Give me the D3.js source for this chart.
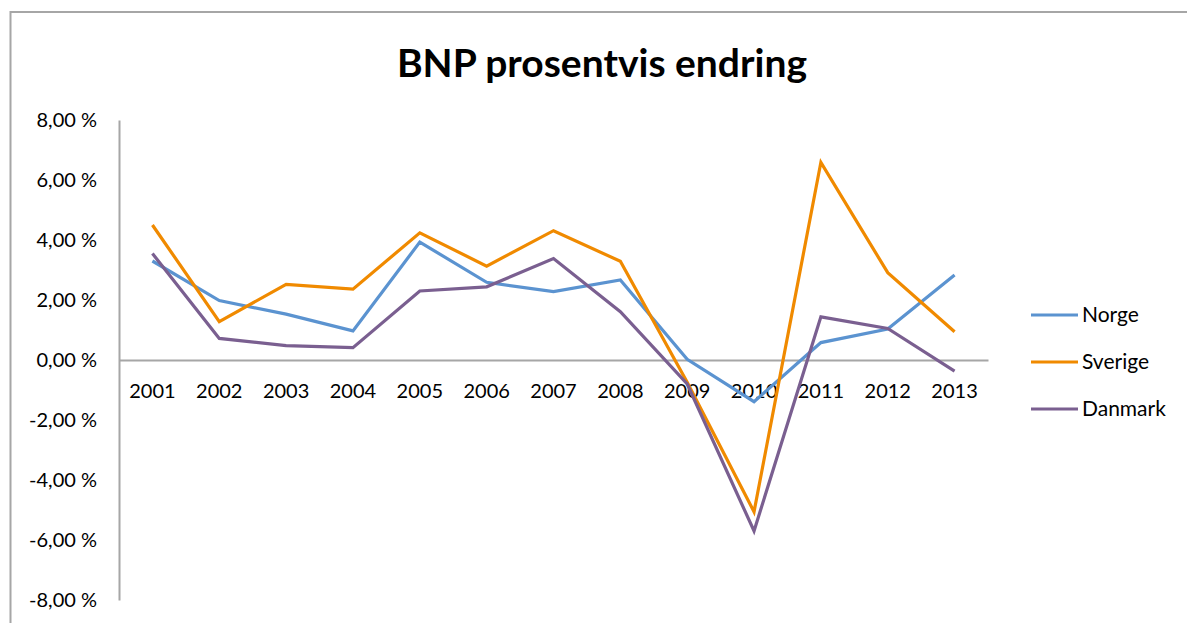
<!DOCTYPE html>
<html>
<head>
<meta charset="utf-8">
<script src="https://cdn.jsdelivr.net/npm/d3@7"></script>
<style>
  body { margin: 0; background: #fff; overflow: hidden; }
  text { font-family: Lato, "Open Sans", sans-serif; fill: #000; }
</style>
</head>
<body>
<svg id="chart"></svg>
<script>
const width = 1187;
const height = 623;

// data (percent change)
const years = ["2001","2002","2003","2004","2005","2006","2007","2008","2009","2010","2011","2012","2013"];
const norge   = [3.30, 1.98, 1.53, 0.97, 3.93, 2.59, 2.28, 2.67, 0.02, -1.39, 0.58, 1.03, 2.83];
const sverige = [4.50, 1.28, 2.52, 2.36, 4.24, 3.13, 4.31, 3.29, -0.74, -5.06, 6.59, 2.91, 0.94];
const danmark = [3.55, 0.72, 0.48, 0.41, 2.30, 2.44, 3.38, 1.61, -0.80, -5.70, 1.44, 1.05, -0.37];
const yTicks = [8, 6, 4, 2, 0, -2, -4, -6, -8];

const series = [
  { name: "Norge", values: norge, color: "#5b93d0" },
  { name: "Sverige", values: sverige, color: "#f08a00" },
  { name: "Danmark", values: danmark, color: "#7a5f90" }
];

const plot = { left: 119, right: 988, top: 120, bottom: 600 };

const svg = d3.select("#chart")
  .attr("width", width)
  .attr("height", height);

// chart frame (runs off the bottom/right of the window)
svg.append("rect")
  .attr("x", 10.5).attr("y", 12)
  .attr("width", 1200).attr("height", 700)
  .attr("fill", "none")
  .attr("stroke", "#a6a6a6")
  .attr("stroke-width", 2);

svg.append("text")
  .attr("x", 602).attr("y", 77)
  .attr("text-anchor", "middle")
  .attr("font-size", 39)
  .attr("font-weight", "bold")
  .text("BNP prosentvis endring");

const x = d3.scaleBand()
  .domain(years)
  .range([plot.left, plot.right]);

const y = d3.scaleLinear()
  .domain([-8, 8])
  .range([plot.bottom, plot.top]);

const pct = d => d3.format(".2f")(Math.abs(d)).replace(".", ",") + " %";

// y axis
const yAxis = svg.append("g")
  .attr("transform", `translate(${plot.left},0)`)
  .call(d3.axisLeft(y).tickValues(yTicks).tickSize(0).tickPadding(22)
    .tickFormat(d => (d < 0 ? "-" : "") + pct(d)));
yAxis.select(".domain").attr("stroke", "#a6a6a6").attr("stroke-width", 2);
yAxis.selectAll("text")
  .attr("font-size", 20)
  .style("font-family", "Lato, 'Open Sans', sans-serif");

// x axis along zero
const xAxis = svg.append("g")
  .attr("transform", `translate(0,${y(0)})`)
  .call(d3.axisBottom(x).tickSize(0).tickPadding(24));
xAxis.select(".domain").attr("stroke", "#a6a6a6").attr("stroke-width", 2);
xAxis.selectAll("text")
  .attr("font-size", 20)
  .style("font-family", "Lato, 'Open Sans', sans-serif");

const line = d3.line()
  .x((d, i) => x(years[i]) + x.bandwidth() / 2)
  .y(d => y(d));

svg.append("g")
  .selectAll("path")
  .data(series)
  .join("path")
  .attr("d", d => line(d.values))
  .attr("fill", "none")
  .attr("stroke", d => d.color)
  .attr("stroke-width", 3.2)
  .attr("stroke-linejoin", "miter");

// legend
const legend = svg.append("g")
  .selectAll("g")
  .data(series)
  .join("g")
  .attr("transform", (d, i) => `translate(1031,${315 + i * 47})`);

legend.append("line")
  .attr("x1", 0).attr("x2", 47)
  .attr("stroke", d => d.color)
  .attr("stroke-width", 3.2);

legend.append("text")
  .attr("x", 51)
  .attr("dy", "0.35em")
  .attr("font-size", 21)
  .text(d => d.name);
</script>
</body>
</html>
